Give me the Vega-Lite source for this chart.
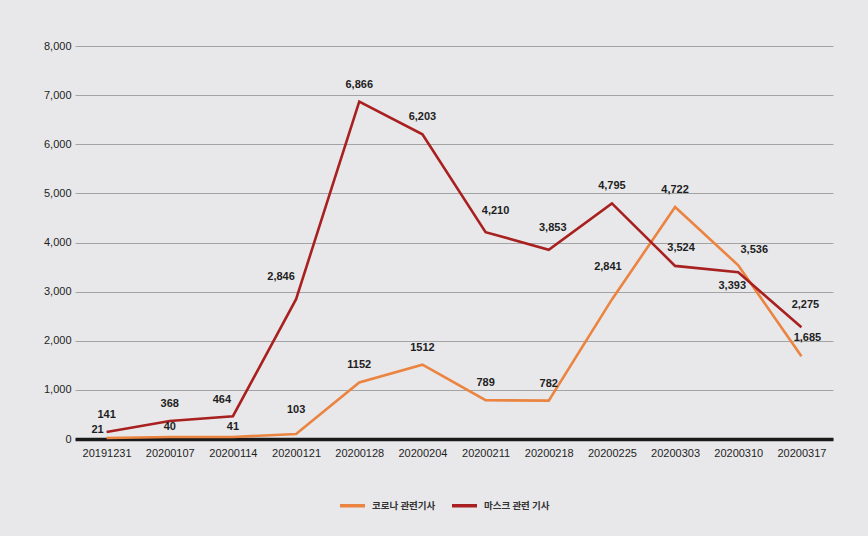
{
  "$schema": "https://vega.github.io/schema/vega-lite/v6.json",
  "width": 758,
  "height": 393,
  "autosize": {"type": "none"},
  "padding": {"left": 75, "top": 46, "right": 35, "bottom": 97},
  "background": "#e8e8ea",
  "config": {
    "view": {"stroke": null},
    "font": "Liberation Sans, Arial",
    "text": {"fontSize": 11, "fontWeight": "bold", "color": "#1e1e1e"}
  },
  "data": {
    "values": [
      {"date": "20191231", "series": "코로나 관련기사", "value": 21, "label": "21"},
      {"date": "20200107", "series": "코로나 관련기사", "value": 40, "label": "40"},
      {"date": "20200114", "series": "코로나 관련기사", "value": 41, "label": "41"},
      {"date": "20200121", "series": "코로나 관련기사", "value": 103, "label": "103"},
      {"date": "20200128", "series": "코로나 관련기사", "value": 1152, "label": "1152"},
      {"date": "20200204", "series": "코로나 관련기사", "value": 1512, "label": "1512"},
      {"date": "20200211", "series": "코로나 관련기사", "value": 789, "label": "789"},
      {"date": "20200218", "series": "코로나 관련기사", "value": 782, "label": "782"},
      {"date": "20200225", "series": "코로나 관련기사", "value": 2841, "label": "2,841"},
      {"date": "20200303", "series": "코로나 관련기사", "value": 4722, "label": "4,722"},
      {"date": "20200310", "series": "코로나 관련기사", "value": 3536, "label": "3,536"},
      {"date": "20200317", "series": "코로나 관련기사", "value": 1685, "label": "1,685"},
      {"date": "20191231", "series": "마스크 관련 기사", "value": 141, "label": "141"},
      {"date": "20200107", "series": "마스크 관련 기사", "value": 368, "label": "368"},
      {"date": "20200114", "series": "마스크 관련 기사", "value": 464, "label": "464"},
      {"date": "20200121", "series": "마스크 관련 기사", "value": 2846, "label": "2,846"},
      {"date": "20200128", "series": "마스크 관련 기사", "value": 6866, "label": "6,866"},
      {"date": "20200204", "series": "마스크 관련 기사", "value": 6203, "label": "6,203"},
      {"date": "20200211", "series": "마스크 관련 기사", "value": 4210, "label": "4,210"},
      {"date": "20200218", "series": "마스크 관련 기사", "value": 3853, "label": "3,853"},
      {"date": "20200225", "series": "마스크 관련 기사", "value": 4795, "label": "4,795"},
      {"date": "20200303", "series": "마스크 관련 기사", "value": 3524, "label": "3,524"},
      {"date": "20200310", "series": "마스크 관련 기사", "value": 3393, "label": "3,393"},
      {"date": "20200317", "series": "마스크 관련 기사", "value": 2275, "label": "2,275"}
    ]
  },
  "encoding": {
    "x": {
      "field": "date",
      "type": "ordinal",
      "sort": null,
      "scale": {"type": "point", "padding": 0.5},
      "axis": {
        "title": null,
        "labelAngle": 0,
        "ticks": false,
        "domain": true,
        "domainColor": "#1a1a1a",
        "domainWidth": 3.5,
        "labelPadding": 8,
        "labelFontSize": 11,
        "labelColor": "#1e1e1e",
        "grid": false
      }
    },
    "y": {
      "field": "value",
      "type": "quantitative",
      "scale": {"domain": [0, 8000]},
      "axis": {
        "title": null,
        "values": [0, 1000, 2000, 3000, 4000, 5000, 6000, 7000, 8000],
        "format": ",.0f",
        "ticks": false,
        "domain": false,
        "labelPadding": 4,
        "labelFontSize": 11,
        "labelColor": "#1e1e1e",
        "grid": true,
        "gridColor": "#a3a3a3",
        "gridWidth": 1
      }
    }
  },
  "layer": [
    {
      "mark": {"type": "line", "strokeWidth": 2.6},
      "encoding": {
        "color": {
          "field": "series",
          "type": "nominal",
          "sort": null,
          "scale": {
            "domain": ["코로나 관련기사", "마스크 관련 기사"],
            "range": ["#ea8440", "#a8201f"]
          },
          "legend": {
            "title": null,
            "orient": "none",
            "legendX": 263,
            "legendY": 445,
            "direction": "horizontal",
            "padding": 0,
            "symbolType": "stroke",
            "symbolSize": 625,
            "symbolStrokeWidth": 3.5,
            "labelOffset": 5,
            "columnPadding": 9,
            "labelFont": "Noto Sans CJK KR",
            "labelFontSize": 9.5,
            "labelFontWeight": "bold",
            "labelColor": "#333333"
          }
        }
      }
    },
    {
      "transform": [{"filter": "datum.label != '3,393' && datum.label != '2,841' && datum.label != '21' && datum.label != '103' && datum.label != '40' && datum.label != '41' && datum.label != '4,210' && datum.label != '2,846' && datum.label != '3,536' && datum.label != '464' && datum.label != '2,275' && datum.label != '3,853' && datum.label != '1,685' && datum.label != '3,524'"}],
      "mark": {"type": "text", "dy": -17},
      "encoding": {"text": {"field": "label"}}
    },
    {
      "transform": [{"filter": "datum.label == '3,393'"}],
      "mark": {"type": "text", "dy": 14, "dx": -6},
      "encoding": {"text": {"field": "label"}}
    },
    {
      "transform": [{"filter": "datum.label == '2,841'"}],
      "mark": {"type": "text", "dy": -32, "dx": -4},
      "encoding": {"text": {"field": "label"}}
    },
    {
      "transform": [{"filter": "datum.label == '103'"}],
      "mark": {"type": "text", "dy": -24},
      "encoding": {"text": {"field": "label"}}
    },
    {
      "transform": [{"filter": "datum.label == '21'"}],
      "mark": {"type": "text", "dy": -8, "dx": -9},
      "encoding": {"text": {"field": "label"}}
    },
    {
      "transform": [{"filter": "datum.label == '40' || datum.label == '41'"}],
      "mark": {"type": "text", "dy": -10},
      "encoding": {"text": {"field": "label"}}
    },
    {
      "transform": [{"filter": "datum.label == '4,210'"}],
      "mark": {"type": "text", "dy": -21, "dx": 10},
      "encoding": {"text": {"field": "label"}}
    },
    {
      "transform": [{"filter": "datum.label == '2,846'"}],
      "mark": {"type": "text", "dy": -22, "dx": -15},
      "encoding": {"text": {"field": "label"}}
    },
    {
      "transform": [{"filter": "datum.label == '3,536'"}],
      "mark": {"type": "text", "dy": -15, "dx": 16},
      "encoding": {"text": {"field": "label"}}
    },
    {
      "transform": [{"filter": "datum.label == '464'"}],
      "mark": {"type": "text", "dy": -16, "dx": -11},
      "encoding": {"text": {"field": "label"}}
    },
    {
      "transform": [{"filter": "datum.label == '2,275' || datum.label == '3,853'"}],
      "mark": {"type": "text", "dy": -22, "dx": 4},
      "encoding": {"text": {"field": "label"}}
    },
    {
      "transform": [{"filter": "datum.label == '1,685' || datum.label == '3,524'"}],
      "mark": {"type": "text", "dy": -18, "dx": 6},
      "encoding": {"text": {"field": "label"}}
    }
  ]
}
